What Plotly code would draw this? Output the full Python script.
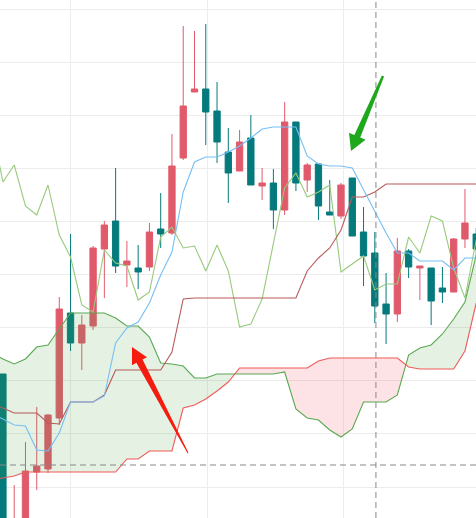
import plotly.graph_objects as go

# ── colours ──
UP = "#e05a6c"        # rising candle (red)
DOWN = "#047a7c"      # falling candle (teal)
TENKAN_C = "#74bff5"
KIJUN_C = "#b85a5a"
CHIKOU_C = "#98ca7c"
SPAN_A_C = "#5aa852"
SPAN_B_C = "#ef5b58"
FILL_UP = "rgba(76,160,70,0.15)"
FILL_DN = "rgba(245,90,100,0.17)"
GRID = "#ececec"

W, H = 476, 518

# ── data (price units are arbitrary; axis labels are hidden) ──
bars = list(range(43))
opens = [144, -20, -10, 46, 49, 100, 205, 175, 192, 269, 297, 253, 250, 251, 289, 285,
         360, 426, 429, 407, 366, 347, 380, 332, 335, 308, 396, 338, 354, 306, 302, 340,
         286, 265, 214, 204, 267, 250, 250, 230, 226, 279, 284]
highs = [144, 33, 76, 111, 104, 221, 284, 203, 272, 297, 350, 277, 273, 295, 325, 384,
         492, 487, 494, 436, 390, 388, 403, 350, 349, 416, 396, 355, 354, 338, 335, 340,
         311, 286, 245, 280, 269, 252, 250, 251, 280, 329, 290]
lows = [-40, -30, -20, 28, 45, 93, 167, 148, 188, 220, 245, 231, 229, 247, 270, 283,
        358, 426, 373, 355, 315, 347, 333, 318, 289, 303, 327, 326, 298, 303, 299, 282,
        232, 195, 174, 196, 240, 218, 193, 215, 226, 270, 260]
closes = [-30, -2, 47, 52, 103, 209, 175, 193, 270, 293, 252, 257, 246, 286, 284, 352,
          412, 429, 406, 376, 345, 376, 333, 335, 308, 396, 335, 353, 312, 303, 333, 282,
          262, 212, 204, 267, 251, 252, 217, 226, 279, 295, 269]

line_x = list(range(-1, 43))
tenkan = [104, 99, 93, 92, 68, 67, 85, 116, 116, 116, 122, 175, 190, 196, 215, 243,
          266, 326, 356, 361, 361, 366, 372, 380, 389, 391, 391, 391, 362, 354, 352, 352,
          350, 328, 306, 285, 265, 265, 257, 257, 257, 248, 260, 260]
kijun = [114, 110, 105, 105, 105, 95, 94, 116, 116, 116, 123, 148, 148, 148, 148, 148,
         166, 219, 220, 220, 220, 220, 220, 220, 220, 220, 220, 220, 247, 260, 270, 288,
         321, 321, 326, 334, 334, 334, 334, 334, 334, 334, 334, 334]
chikou = [392, 336, 353, 312, 303, 333, 283, 261, 213, 206, 268, 255, 252, 218, 226, 281,
          291, 270, 272, 247, 273, 247, 191, 194, 219, 273, 330, 345, 321, 326, 333, 246,
          254, 262, 228, 234, 234, 281, 265, 302, 297, 250, 220, 278]
span_a = [165, 159, 154, 159, 171, 173, 189, 205, 205, 205, 205, 200, 192, 192, 181, 155,
          154, 152, 140, 140, 144, 144, 144, 144, 144, 144, 146, 109, 100, 98, 88, 81,
          89, 116, 116, 116, 123, 163, 170, 173, 184, 199, 216, 263]
span_b = [39, 40, 42, 46, 46, 46, 46, 46, 46, 46, 46, 46, 59, 59, 67, 67,
          67, 110, 113, 119, 127, 136, 150, 150, 150, 150, 150, 150, 150, 157, 160, 160,
          160, 160, 160, 160, 160, 151, 149, 149, 149, 149, 167, 215]

cross_bar = 33.1
cross_price = 53


def cloud_runs(x, a, b):
    """Split the cloud into runs where span A is above / below span B."""
    runs, cur = [], None
    for k in range(len(x)):
        s = a[k] >= b[k]
        if cur is None:
            cur = [s, [x[k]], [a[k]], [b[k]]]
            continue
        if s != cur[0]:
            d0, d1 = a[k - 1] - b[k - 1], a[k] - b[k]
            t = d0 / (d0 - d1)
            xc = x[k - 1] + t * (x[k] - x[k - 1])
            yc = a[k - 1] + t * (a[k] - a[k - 1])
            cur[1].append(xc); cur[2].append(yc); cur[3].append(yc)
            runs.append(cur)
            cur = [s, [xc], [yc], [yc]]
        cur[1].append(x[k]); cur[2].append(a[k]); cur[3].append(b[k])
    runs.append(cur)
    return runs


def arrow_path(tail, tip, head_len, head_w, neck_w, tail_w):
    """Tapered arrow as a closed path in paper coordinates (input in pixels)."""
    dx, dy = tip[0] - tail[0], tip[1] - tail[1]
    ln = (dx * dx + dy * dy) ** 0.5
    ux, uy = dx / ln, dy / ln
    nx, ny = -uy, ux
    bx, by = tip[0] - ux * head_len, tip[1] - uy * head_len
    pts = [
        (tail[0] + nx * tail_w, tail[1] + ny * tail_w),
        (bx + nx * neck_w, by + ny * neck_w),
        (bx + nx * head_w, by + ny * head_w),
        tip,
        (bx - nx * head_w, by - ny * head_w),
        (bx - nx * neck_w, by - ny * neck_w),
        (tail[0] - nx * tail_w, tail[1] - ny * tail_w),
    ]
    s = " L ".join(f"{px / W:.4f},{1 - py / H:.4f}" for px, py in pts)
    return "M " + s + " Z"


fig = go.Figure()

# cloud fill
for up in (True, False):
    xs, ys = [], []
    for s, rx, ra, rb in cloud_runs(line_x, span_a, span_b):
        if s != up:
            continue
        xs += rx + rx[::-1] + [None]
        ys += ra + rb[::-1] + [None]
    fig.add_trace(go.Scatter(x=xs, y=ys, mode="lines", fill="toself",
                             fillcolor=FILL_UP if up else FILL_DN,
                             line=dict(width=0), hoverinfo="skip", showlegend=False))

for name, vals, col in [("Senkou A", span_a, SPAN_A_C), ("Senkou B", span_b, SPAN_B_C),
                        ("Chikou", chikou, CHIKOU_C), ("Kijun", kijun, KIJUN_C),
                        ("Tenkan", tenkan, TENKAN_C)]:
    fig.add_trace(go.Scatter(x=line_x, y=vals, mode="lines", name=name,
                             line=dict(color=col, width=1.1), showlegend=False))

fig.add_trace(go.Candlestick(
    x=bars, open=opens, high=highs, low=lows, close=closes,
    increasing=dict(line=dict(color=UP, width=1), fillcolor=UP),
    decreasing=dict(line=dict(color=DOWN, width=1), fillcolor=DOWN),
    whiskerwidth=0, showlegend=False,
))

# crosshair
fig.add_shape(type="line", x0=cross_bar, x1=cross_bar, y0=0, y1=1, yref="paper",
              line=dict(color="#888888", width=1, dash="6px,4px"))
fig.add_shape(type="line", x0=0, x1=1, xref="paper", y0=cross_price, y1=cross_price,
              line=dict(color="#888888", width=1, dash="6px,4px"))

# hand-drawn style arrows
fig.add_shape(type="path", xref="paper", yref="paper",
              path=arrow_path((188, 453), (132, 347), 16, 8.5, 3.5, 0.5),
              fillcolor="#f41c0e", line=dict(width=0))
fig.add_shape(type="path", xref="paper", yref="paper",
              path=arrow_path((383, 76), (351, 151), 16, 9, 3.2, 1.2),
              fillcolor="#1fa81c", line=dict(width=0))

fig.update_layout(
    width=W, height=H,
    margin=dict(l=0, r=0, t=0, b=0),
    paper_bgcolor="white", plot_bgcolor="white",
    boxgap=0.3, boxgroupgap=0.2,
    showlegend=False,
    xaxis=dict(range=[-0.26, 41.98], showticklabels=False, zeroline=False,
               showgrid=True, gridcolor=GRID, tick0=6.04, dtick=12.07,
               rangeslider=dict(visible=False), fixedrange=True),
    yaxis=dict(range=[0, 518], showticklabels=False, zeroline=False,
               showgrid=True, gridcolor=GRID, tick0=31, dtick=53.1, fixedrange=True),
)

fig.write_html("out.html", config=dict(displayModeBar=False),
               post_script="document.body.style.margin='0';document.body.style.overflow='hidden';")
